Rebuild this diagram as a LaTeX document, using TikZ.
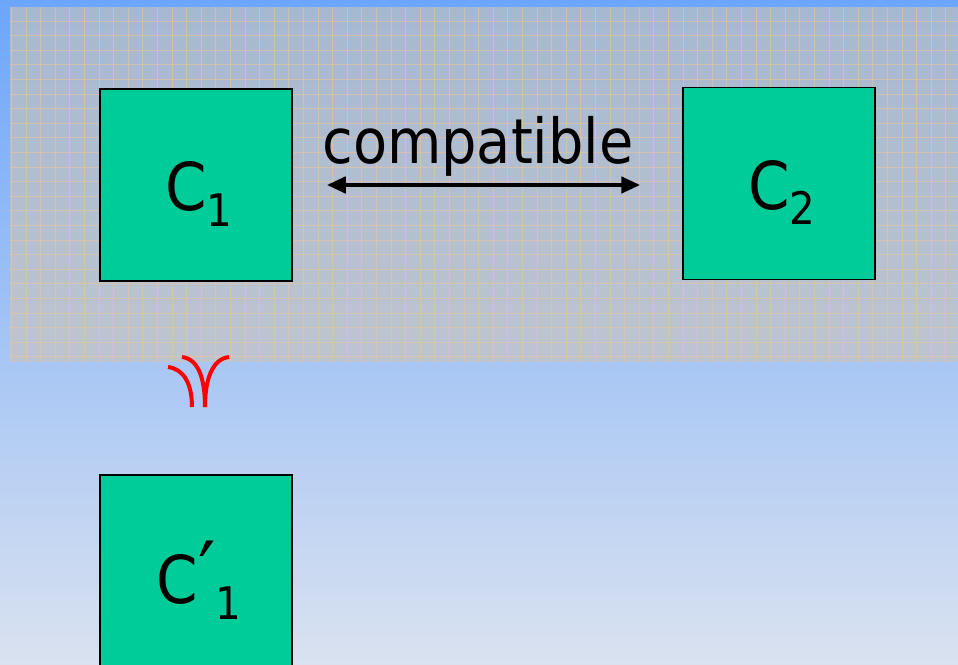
\documentclass[tikz,border=0pt]{standalone}
\usepackage{fontspec}
\setmainfont{DejaVu Sans Condensed}
\usepackage{tikz}
\usetikzlibrary{arrows.meta, positioning, calc}
\definecolor{skytop}{RGB}{108,166,250}
\definecolor{skybot}{RGB}{218,226,240}
\definecolor{panelgray}{RGB}{205,196,182}
\definecolor{gridorange}{RGB}{240,198,150}
\definecolor{boxgreen}{RGB}{0,204,153}
\newcommand{\subone}[1]{\raisebox{-0.24em}{\scalebox{0.68}{#1}}}
\tikzset{compbox/.style={rectangle,draw=black,line width=1.5pt,fill=boxgreen,
    minimum size=192pt,inner sep=0pt},
    box text/.style={font=\fontsize{66}{70}\selectfont,inner sep=0pt,yshift=-9pt,xshift=3pt},
    compat label/.style={font=\fontsize{62}{70}\selectfont,inner sep=0pt},
    compat arrow/.style={line width=4.5pt,{Triangle[length=19pt,width=16pt]}-{Triangle[length=19pt,width=16pt]}},
    refines/.style={red,line width=4pt},
    gridline/.style={gridorange,opacity=0.55,line width=0.9pt}}
\begin{document}
\begin{tikzpicture}[x=1pt,y=-1pt]
    \useasboundingbox (0,0) rectangle (958,664);
    % Background and grid panel
    \shade[top color=skytop, bottom color=skybot] (0,0) rectangle (958,664);
    \fill[panelgray, opacity=0.6] (10,7) rectangle (958,362);
    \foreach \gx in {0,...,64} \draw[gridline] (11.5+14.6*\gx,7) -- (11.5+14.6*\gx,362);
    \foreach \gy in {0,...,23} \draw[gridline] (10,21+14.6*\gy) -- (958,21+14.6*\gy);

    % Components
    \node[compbox, label={[box text]center:C\subone{1}}] (c1) at (196,185) {};
    \node[compbox, label={[box text]center:C\subone{2}}] (c2) at (779,183.5) {};
    \node[compbox, label={[box text]center:C\scalebox{1.3}{\char"2032}\subone{1}}] (c1p) at (196,571) {};

    % Compatibility relation
    \node[compat label, anchor=base] (compat) at (478,163) {compatible};
    \draw[compat arrow] ([xshift=34pt]c1.east) -- ([xshift=-42pt]c1.east -| c2.west);

    % Refinement symbol between C1 and C1'
    \draw[refines] (168,367) .. controls (184,369) and (192,384) .. (192,407);
    \draw[refines] (182,357) .. controls (199,359) and (205,380) .. (205,407);
    \draw[refines] (229,357) .. controls (212,359) and (205,380) .. (205,407);
\end{tikzpicture}
\end{document}
